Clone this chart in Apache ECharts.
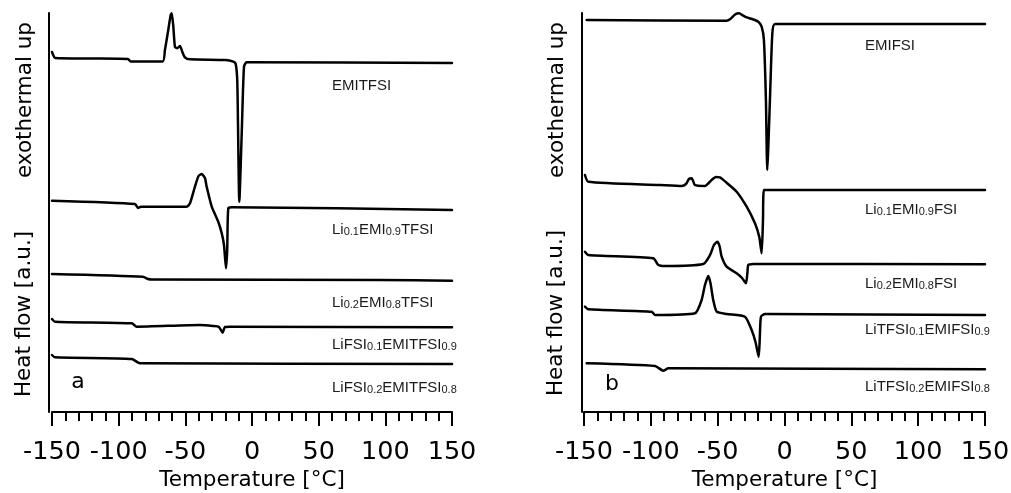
<!DOCTYPE html>
<html>
<head>
<meta charset="utf-8">
<script src="https://cdn.jsdelivr.net/npm/echarts@6/dist/echarts.min.js"></script>
<style>
  html, body { margin: 0; padding: 0; background: #fff; }
  #chart { width: 1011px; height: 493px; }
</style>
</head>
<body>
<div id="chart"></div>
<script>
// DSC traces, [temperature °C, heat flow a.u.] (curves offset vertically)
// panel a
const emitfsi = [[-150, 360], [-147.5, 354], [-120, 353.5], [-93, 353], [-91, 350.5], [-67, 350.5], [-65.3, 362], [-62.8, 382], [-61, 397], [-60.2, 398.7], [-59, 385.3], [-57.8, 365.3], [-56, 363.7], [-54, 366], [-52.3, 360.3], [-50.3, 354.7], [-46.5, 352.7], [-20, 352], [-14, 350.3], [-12.2, 348], [-11, 329], [-9.5, 210.3], [-7.7, 279], [-6, 345.3], [-4, 349.7], [150, 349]];
const li01TFSI = [[-150, 211.3], [-87.8, 208], [-85.5, 204], [-83.3, 205.3], [-49, 205.3], [-46.5, 208.7], [-42.8, 225.3], [-40.1, 236], [-37.7, 238], [-35.3, 234], [-34, 225.3], [-30.2, 205.3], [-25.3, 190.3], [-22.7, 178.7], [-21, 167], [-19.5, 143.7], [-18.6, 162], [-17.8, 203.7], [-15.2, 204.7], [150, 202]];
const li02TFSI = [[-150, 138], [-81.8, 135.3], [-78, 133], [-75, 132.5], [96, 132], [150, 131.3]];
const liFSI01 = [[-150, 93], [-147.8, 90.3], [-90.2, 88.7], [-86.5, 85.3], [-39, 87], [-29.3, 86], [-24.8, 85], [-22, 79.3], [-20.3, 85], [-16.5, 85.3], [150, 84.7]];
const liFSI02 = [[-150, 57], [-147.8, 54.7], [-90.2, 53], [-84, 48.7], [150, 48]];

// panel b
const emifsi = [[-148, 392], [-43.3, 391.3], [-40.8, 392.7], [-37, 397.5], [-34, 398.7], [-31, 396.5], [-28.3, 394.7], [-24.3, 393], [-19.6, 390.3], [-17.1, 385.3], [-15.4, 372], [-13.9, 312], [-12.9, 242], [-10.9, 312], [-9.1, 378.7], [-7.1, 388], [150, 388]];
const li01FSI = [[-149.3, 237], [-146.8, 230.3], [-93.2, 227], [-76.9, 226], [-73.7, 228], [-71.5, 233], [-69.4, 233.7], [-67, 227], [-59.5, 226], [-54.5, 232], [-51.3, 235], [-48.3, 234.7], [-43.3, 229.3], [-35.8, 220.3], [-28.3, 205.3], [-22.1, 188.7], [-18.9, 175.3], [-17.1, 158.7], [-16.1, 192], [-15.4, 222], [-12.1, 222], [150, 222]];
const li02FSI = [[-149.3, 160.3], [-146.8, 157], [-98.2, 153.7], [-94.4, 147], [-89.4, 146], [-60.8, 148], [-55.7, 157], [-52.8, 167], [-50.3, 170.3], [-48.6, 166], [-47, 155.3], [-43.3, 145.3], [-35.8, 138.7], [-31.8, 134], [-28.8, 128.7], [-27.7, 140], [-27.1, 147], [-23.4, 148], [150, 147.7]];
const liTFSI01 = [[-149.3, 105.3], [-146.8, 102.7], [-99.4, 100.3], [-96.9, 97], [-67, 98.7], [-62, 112], [-59.5, 127], [-57, 136], [-55.4, 129], [-53.3, 112], [-50.7, 100.3], [-43.3, 98], [-29.6, 95.3], [-24.6, 82], [-21.7, 70], [-19.3, 55.3], [-18.4, 77], [-17.6, 95.3], [-14.6, 98], [150, 97]];
const liTFSI02 = [[-148, 48.7], [-96.9, 46], [-90.7, 41.3], [-86.9, 43.7], [150, 42.7]];

// curve labels: text parts (odd entries are subscripts), vertical position
const labelsA = [
  [["EMITFSI"], 83],
  [["Li", "0.1", "EMI", "0.9", "TFSI"], 227],
  [["Li", "0.2", "EMI", "0.8", "TFSI"], 300],
  [["LiFSI", "0.1", "EMITFSI", "0.9"], 342],
  [["LiFSI", "0.2", "EMITFSI", "0.8"], 385]
];
const labelsB = [
  [["EMIFSI"], 43],
  [["Li", "0.1", "EMI", "0.9", "FSI"], 207],
  [["Li", "0.2", "EMI", "0.8", "FSI"], 281],
  [["LiTFSI", "0.1", "EMIFSI", "0.9"], 327],
  [["LiTFSI", "0.2", "EMIFSI", "0.8"], 384]
];

const axisFont = "DejaVu Sans";
const labelFont = "Liberation Sans";

function richText(parts) {
  // even index = normal text, odd index = subscript
  return parts.map((p, i) => (i % 2 === 0 ? "{n|" + p + "}" : "{s|" + p + "}")).join("");
}

function curveLabel(item, x) {
  return {
    type: "text",
    x: x,
    y: item[1],
    style: {
      text: richText(item[0]),
      fill: "#1a1a1a",
      verticalAlign: "middle",
      rich: {
        n: { fontSize: 15, lineHeight: 20, verticalAlign: "bottom", fontFamily: labelFont, fill: "#1a1a1a" },
        s: { fontSize: 11, lineHeight: 10, verticalAlign: "bottom", fontFamily: labelFont, fill: "#1a1a1a" }
      }
    }
  };
}

function yTitle(text, x, y) {
  return {
    type: "text",
    x: x,
    y: y,
    rotation: Math.PI / 2,
    style: { text: text, fontSize: 21.5, fontFamily: axisFont, fill: "#000", align: "center", verticalAlign: "middle" }
  };
}

function makeX(gridIndex) {
  return {
    type: "value",
    gridIndex: gridIndex,
    min: -150,
    max: 150,
    interval: 50,
    name: "Temperature [°C]",
    nameLocation: "middle",
    nameGap: 55,
    nameTextStyle: { fontSize: 21.5, fontFamily: axisFont, color: "#000" },
    axisLine: { show: true, onZero: false, lineStyle: { color: "#000", width: 2 } },
    axisTick: { show: true, inside: false, length: 14, lineStyle: { color: "#000", width: 2 } },
    minorTick: { show: true, splitNumber: 5, length: 9, lineStyle: { color: "#000", width: 2 } },
    axisLabel: { fontSize: 25.5, fontFamily: axisFont, color: "#000", margin: 27 },
    splitLine: { show: false }
  };
}

function makeY(gridIndex, offset) {
  return {
    type: "value",
    gridIndex: gridIndex,
    min: 0,
    max: 399,
    offset: offset,
    axisLine: { show: true, onZero: false, lineStyle: { color: "#000", width: 2 } },
    axisTick: { show: false },
    axisLabel: { show: false },
    splitLine: { show: false }
  };
}

function makeSeries(data, idx) {
  return {
    type: "line",
    data: data,
    xAxisIndex: idx,
    yAxisIndex: idx,
    showSymbol: false,
    smooth: 0.2,
    lineStyle: { color: "#000", width: 2.5, join: "round", cap: "round" },
    animation: false
  };
}

let chart = echarts.init(document.getElementById("chart"), null, { renderer: "canvas" });

let option = {
  backgroundColor: "#fff",
  animation: false,
  grid: [
    { left: 52, right: 559, top: 13, bottom: 81, outerBoundsMode: "none", containLabel: false },
    { left: 584, right: 26, top: 13, bottom: 81, outerBoundsMode: "none", containLabel: false }
  ],
  xAxis: [makeX(0), makeX(1)],
  yAxis: [makeY(0, 3), makeY(1, 2)],
  series: [
    makeSeries(emitfsi, 0),
    makeSeries(li01TFSI, 0),
    makeSeries(li02TFSI, 0),
    makeSeries(liFSI01, 0),
    makeSeries(liFSI02, 0),
    makeSeries(emifsi, 1),
    makeSeries(li01FSI, 1),
    makeSeries(li02FSI, 1),
    makeSeries(liTFSI01, 1),
    makeSeries(liTFSI02, 1)
  ],
  graphic: [
    yTitle("exothermal up", 25, 100),
    yTitle("Heat flow [a.u.]", 24, 314),
    yTitle("exothermal up", 557, 100),
    yTitle("Heat flow [a.u.]", 556, 313),
    { type: "text", x: 78, y: 382, style: { text: "a", fontSize: 22, fontFamily: axisFont, fill: "#000", align: "center", verticalAlign: "middle" } },
    { type: "text", x: 612, y: 384, style: { text: "b", fontSize: 22, fontFamily: axisFont, fill: "#000", align: "center", verticalAlign: "middle" } }
  ]
    .concat(labelsA.map((l) => curveLabel(l, 332)))
    .concat(labelsB.map((l) => curveLabel(l, 865)))
};

chart.setOption(option);
</script>
</body>
</html>
